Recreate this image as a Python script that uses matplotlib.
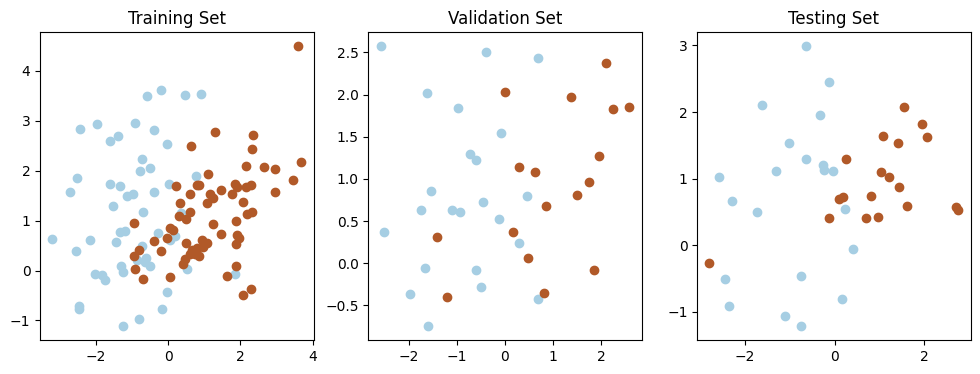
from matplotlib import pyplot as plt
import numpy as np

# colours from the Paired colormap ends
c_neg = '#a6cee3'
c_pos = '#b15928'

titles = ['Training Set', 'Validation Set', 'Testing Set']

train_x0 = [-3.20, -2.70, -2.50, -2.42, -2.55, -2.47, -2.47, -2.15, -2.02, -1.96,
            -1.82, -1.74, -1.60, -1.38, -1.60, -1.32, -1.14, -0.96, -1.51, -1.45,
            -1.32, -1.18, -1.30, -1.23, -1.25, -0.91, -0.77, -0.72, -0.51, -0.68,
            -0.86, -0.72, -0.61, -0.64, -0.50, -0.81, -0.59, -0.39, -0.40, -0.29,
            -0.18, -0.17, -0.04, -0.02, 0.04, 0.06, 0.20, 0.35, 0.46, 0.53,
            0.77, 0.91, 1.85]
train_y0 = [0.63, 1.57, 1.86, 2.84, 0.39, -0.71, -0.78, 0.61, -0.07, 2.93,
            -0.09, -0.18, 2.59, 2.69, 1.73, 1.69, 1.50, 1.53, 1.29, 0.58,
            0.78, 0.79, 0.09, -0.03, -1.11, 2.95, 1.99, 2.23, 2.05, 1.17,
            0.22, 0.49, 0.25, 0.17, 0.10, -0.98, 3.50, 2.81, 1.57, 0.75,
            3.62, -0.78, -0.43, 2.54, 1.73, 0.61, 0.70, 1.15, 3.51, 0.03,
            1.89, 3.53, -0.07]
train_x1 = [3.59, 1.29, 0.64, 2.34, 2.33, 2.16, 2.64, 2.96, 3.66, 3.46,
            1.10, 1.85, 1.91, 2.29, 2.15, 0.22, 0.79, 0.86, 1.45, 2.96,
            0.62, 1.16, 1.25, 1.78, 1.08, 2.06, 0.34, 0.62, 0.31, 0.51,
            2.17, 2.31, 1.87, 1.23, 1.45, 0.06, 0.15, 1.91, 1.95, 1.87,
            -0.40, -0.04, 0.50, 0.94, 1.08, 0.97, 0.79, 0.65, 0.74, 0.86,
            0.61, -0.18, 0.47, 0.42, 1.89, 1.63, 0.06, 2.28, 2.06, -0.95,
            -0.81, -0.94, -0.91, -0.68]
train_y1 = [4.49, 2.78, 2.49, 2.71, 2.43, 2.09, 2.07, 2.03, 2.17, 1.81,
            1.93, 1.74, 1.67, 1.71, 1.67, 1.70, 1.71, 1.71, 1.62, 1.57,
            1.54, 1.54, 1.46, 1.54, 1.35, 1.38, 1.35, 1.17, 1.09, 1.03,
            1.14, 1.18, 0.99, 0.94, 0.74, 0.85, 0.82, 0.71, 0.65, 0.53,
            0.59, 0.65, 0.55, 0.61, 0.55, 0.47, 0.46, 0.41, 0.33, 0.30,
            0.34, 0.39, 0.24, 0.13, 0.09, -0.10, -0.13, -0.38, -0.49, 0.95,
            0.42, 0.30, 0.03, -0.17]

val_x0 = [-2.58, -0.40, 0.68, -1.62, -0.98, -0.08, -0.73, -0.59, -1.54, 0.46,
          -1.74, -1.10, -0.94, -0.46, -0.12, -2.51, 0.29, -1.66, -0.61, -0.49,
          -1.97, -1.59, 0.68]
val_y0 = [2.57, 2.50, 2.43, 2.02, 1.84, 1.55, 1.30, 1.22, 0.86, 0.80,
          0.63, 0.63, 0.61, 0.73, 0.52, 0.37, 0.24, -0.06, -0.08, -0.28,
          -0.37, -0.74, -0.42]
val_x1 = [0.01, 1.37, 2.09, 2.24, 2.57, 1.96, 0.30, 0.62, 1.75, 1.50,
          0.85, -1.41, 0.16, 0.47, 1.84, 0.81, -1.21]
val_y1 = [2.03, 1.97, 2.37, 1.83, 1.85, 1.27, 1.14, 1.08, 0.96, 0.81,
          0.68, 0.31, 0.37, 0.06, -0.08, -0.35, -0.40]

test_x0 = [-0.64, -0.12, -1.62, -0.33, -1.03, -0.63, -0.27, -0.24, -0.04, -1.30,
           -2.58, -2.29, -1.74, 0.24, 0.40, -2.44, -0.75, -2.36, 0.16, -1.11,
           -0.75]
test_y0 = [2.99, 2.45, 2.11, 1.95, 1.53, 1.29, 1.20, 1.13, 1.12, 1.11,
           1.03, 0.67, 0.50, 0.54, -0.06, -0.51, -0.46, -0.91, -0.81, -1.06,
           -1.21]
test_x1 = [1.55, 1.96, 2.07, 1.08, 1.41, 0.26, 1.03, 1.22, 1.43, 0.10,
           0.18, 0.81, 1.62, 2.72, 2.75, -0.13, 0.71, 0.97, -2.81]
test_y1 = [2.08, 1.82, 1.62, 1.64, 1.54, 1.30, 1.10, 1.03, 0.88, 0.70,
           0.73, 0.74, 0.59, 0.57, 0.53, 0.41, 0.41, 0.43, -0.26]

sets = [(train_x0, train_y0, train_x1, train_y1),
        (val_x0, val_y0, val_x1, val_y1),
        (test_x0, test_y0, test_x1, test_y1)]
xlims = [(-3.53, 4.02), (-2.83, 2.84), (-3.07, 3.04)]
ylims = [(-1.39, 4.77), (-0.91, 2.74), (-1.42, 3.2)]
xticks = [[-2, 0, 2, 4], [-2, -1, 0, 1, 2], [-2, 0, 2]]
yticks = [[-1, 0, 1, 2, 3, 4], [-0.5, 0, 0.5, 1, 1.5, 2, 2.5], [-1, 0, 1, 2, 3]]

fig, axes = plt.subplots(1, 3, figsize=(9.8, 3.74), dpi=100)
fig.subplots_adjust(left=0.041, right=0.9905, bottom=0.091, top=0.914, wspace=0.2)
lefts = [0.041, 0.376, 0.7115]
for i, ax in enumerate(axes):
    ax.set_position([lefts[i], 0.091, 0.279, 0.823])
    x0, y0, x1, y1 = sets[i]
    ax.scatter(x0, y0, color=c_neg)
    ax.scatter(x1, y1, color=c_pos)
    ax.set_xlim(*xlims[i])
    ax.set_ylim(*ylims[i])
    ax.set_xticks(xticks[i])
    ax.set_yticks(yticks[i])
    ax.set_title(titles[i])

fig.savefig('out.png', dpi=100)
